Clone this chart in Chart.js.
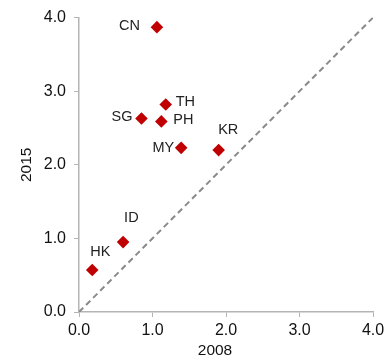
<!DOCTYPE html>
<html>
<head>
<meta charset="utf-8">
<script src="https://cdn.jsdelivr.net/npm/chart.js@4/dist/chart.umd.min.js"></script>
<style>
  html, body { margin: 0; padding: 0; background: #ffffff; }
  #wrap { width: 390px; height: 360px; }
</style>
</head>
<body>
<div id="wrap"><canvas id="c" width="390" height="360"></canvas></div>
<script>
// ---- data ----
const countries = ['CN', 'TH', 'SG', 'PH', 'MY', 'KR', 'ID', 'HK'];
const values2008 = [1.06, 1.18, 0.85, 1.12, 1.39, 1.90, 0.60, 0.18];
const values2015 = [3.87, 2.82, 2.63, 2.59, 2.23, 2.20, 0.95, 0.57];
const axisTicks = [0, 1, 2, 3, 4];
const xTitle = '2008';
const yTitle = '2015';

// ---- label placement (style) ----
const labelPlacement = [
  { align: 'right', dx: -17, dy: -1.5 },
  { align: 'left', dx: 10, dy: -2.5 },
  { align: 'right', dx: -9, dy: -1.5 },
  { align: 'left', dx: 12, dy: -1 },
  { align: 'right', dx: -7, dy: 0 },
  { align: 'left', dx: -0.5, dy: -20 },
  { align: 'left', dx: 1, dy: -24.5 },
  { align: 'left', dx: -2, dy: -18.5 }
];

const points = countries.map((c, i) => ({ x: values2008[i], y: values2015[i] }));
const diag = [{ x: axisTicks[0], y: axisTicks[0] }, { x: axisTicks[axisTicks.length - 1], y: axisTicks[axisTicks.length - 1] }];

const fontFamily = '"Liberation Sans", Arial, sans-serif';

const labelPlugin = {
  id: 'pointLabels',
  afterDatasetsDraw(chart) {
    const meta = chart.getDatasetMeta(1);
    const ctx = chart.ctx;
    ctx.save();
    ctx.font = '14.5px ' + fontFamily;
    ctx.fillStyle = '#222222';
    ctx.textBaseline = 'middle';
    meta.data.forEach((el, i) => {
      const p = labelPlacement[i];
      ctx.textAlign = p.align;
      ctx.fillText(countries[i], el.x + p.dx, el.y + p.dy);
    });
    // x-axis title, slightly left of centre as in the reference
    const xs = chart.scales.x;
    ctx.font = '15.5px ' + fontFamily;
    ctx.fillStyle = '#111111';
    ctx.textAlign = 'center';
    ctx.fillText(xTitle, (xs.left + xs.right) / 2 - 11, xs.bottom - 9);
    ctx.restore();
  }
};

const axisColor = '#b4b4b4';
const tickFont = { family: fontFamily, size: 16 };
const titleFont = { family: fontFamily, size: 15.5 };

new Chart(document.getElementById('c'), {
  type: 'scatter',
  data: {
    datasets: [
      {
        type: 'line',
        data: diag,
        borderColor: '#8a8a8a',
        borderWidth: 2,
        borderDash: [6, 4],
        pointRadius: 0,
        fill: false
      },
      {
        data: points,
        pointStyle: 'rectRot',
        pointRadius: 6.3,
        pointHoverRadius: 6.3,
        backgroundColor: '#c00000',
        borderColor: '#c00000',
        borderWidth: 0
      }
    ]
  },
  options: {
    responsive: false,
    animation: false,
    layout: { padding: { top: 16, right: 17, bottom: 0, left: 0 } },
    plugins: { legend: { display: false }, tooltip: { enabled: false } },
    scales: {
      x: {
        type: 'linear',
        min: axisTicks[0],
        max: axisTicks[axisTicks.length - 1],
        afterBuildTicks: (s) => { s.ticks = axisTicks.map(v => ({ value: v })); },
        afterFit: (s) => { s.height = 48; },
        ticks: { callback: v => v.toFixed(1), font: tickFont, color: '#111111', padding: 4, maxRotation: 0 },
        grid: { drawOnChartArea: false, drawTicks: true, tickLength: 5, color: axisColor },
        border: { display: true, color: axisColor, width: 1.5 },
        title: { display: false }
      },
      y: {
        type: 'linear',
        min: axisTicks[0],
        max: axisTicks[axisTicks.length - 1],
        afterBuildTicks: (s) => { s.ticks = axisTicks.map(v => ({ value: v })); },
        afterFit: (s) => { s.width = 79; },
        ticks: { callback: v => v.toFixed(1), font: tickFont, color: '#111111', padding: 8 },
        grid: { drawOnChartArea: false, drawTicks: true, tickLength: 5, color: axisColor },
        border: { display: true, color: axisColor, width: 1.5 },
        title: { display: true, text: yTitle, font: titleFont, color: '#111111', padding: { top: 17, bottom: 0 } }
      }
    }
  },
  plugins: [labelPlugin]
});
</script>
</body>
</html>
